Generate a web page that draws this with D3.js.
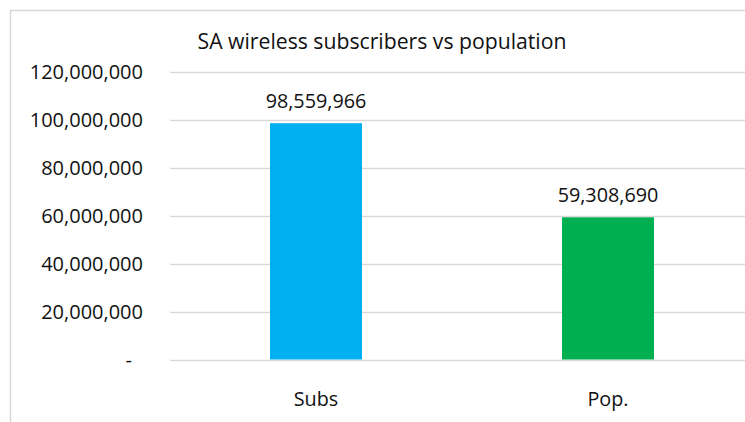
<!DOCTYPE html>
<html><head><meta charset="utf-8">
<script src="https://cdn.jsdelivr.net/npm/d3@7"></script>
<style>body{margin:0;background:#fff;} text{font-family:"Open Sans",sans-serif;fill:#111;}</style>
</head><body>
<script>
const categories = ["Subs", "Pop."];
const values = [98559966, 59308690];
const colors = ["#00B0F0", "#00B050"];
const yTicks = [0, 20000000, 40000000, 60000000, 80000000, 100000000, 120000000];
const title = "SA wireless subscribers vs population";

const W = 745, H = 422;
const svg = d3.select("body").append("svg").attr("width", W).attr("height", H);
svg.append("rect").attr("x", 10.5).attr("y", 10.5).attr("width", 800).attr("height", 600)
  .attr("fill", "#fff").attr("stroke", "#d9d9d9").attr("stroke-width", 1.5);

const plot = {left: 170, right: 754, top: 71.8, bottom: 359.5};
const y = d3.scaleLinear().domain([0, 120000000]).range([plot.bottom, plot.top]);
const x = d3.scaleBand().domain(categories).range([plot.left, plot.right]).paddingInner(0.685).paddingOuter(0.3425);

// gridlines
svg.append("g").selectAll("line").data(yTicks).join("line")
  .attr("x1", plot.left).attr("x2", plot.right)
  .attr("y1", d => Math.round(y(d)) + 0.5).attr("y2", d => Math.round(y(d)) + 0.5)
  .attr("stroke", "#d9d9d9").attr("stroke-width", 1.3);

// y axis labels
const fmt = d3.format(",");
const yAxis = d3.axisLeft(y).tickValues(yTicks).tickSize(0).tickPadding(0)
  .tickFormat(d => d === 0 ? "-" : fmt(d));
const ga = svg.append("g").attr("transform", `translate(143,0)`).call(yAxis);
ga.select(".domain").remove();
ga.selectAll("text").style("font-family", "'Open Sans',sans-serif").style("font-size", "20px").attr("fill", "#111")
  .attr("dy", "0.33em")
  .attr("dx", d => d === 0 ? -11 : 0);

// bars
svg.append("g").selectAll("rect").data(values).join("rect")
  .attr("x", (d, i) => x(categories[i])).attr("width", x.bandwidth())
  .attr("y", d => y(d)).attr("height", d => y(0) - y(d))
  .attr("fill", (d, i) => colors[i]);

// value labels
svg.append("g").selectAll("text").data(values).join("text")
  .attr("x", (d, i) => x(categories[i]) + x.bandwidth() / 2)
  .attr("y", d => y(d) - 15)
  .attr("text-anchor", "middle").style("font-size", "19.8px")
  .text(d => fmt(d));

// x axis labels
const xAxis = d3.axisBottom(x).tickSize(0).tickPadding(0);
const gx = svg.append("g").attr("transform", `translate(0,${plot.bottom})`).call(xAxis);
gx.select(".domain").remove();
gx.selectAll("text").style("font-family", "'Open Sans',sans-serif").style("font-size", "19.8px").attr("fill", "#111")
  .attr("dy", 0).attr("y", 46.5);

// title
svg.append("text").attr("x", 382).attr("y", 49).attr("text-anchor", "middle")
  .style("font-size", "21.2px").text(title);
</script>
</body></html>
